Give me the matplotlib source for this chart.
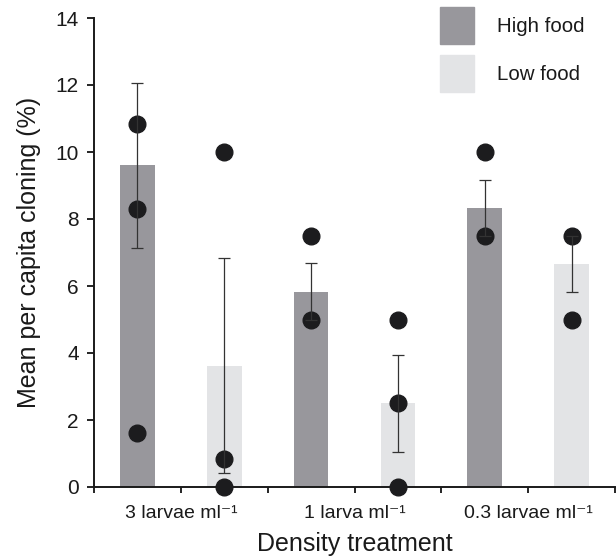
import matplotlib
matplotlib.use("Agg")
import matplotlib.pyplot as plt
from matplotlib.patches import Patch

plt.rcParams['font.family'] = ['Liberation Sans', 'DejaVu Sans']

categories = ["3 larvae ml\u207b\u00b9", "1 larva ml\u207b\u00b9", "0.3 larvae ml\u207b\u00b9"]
series = ["High food", "Low food"]
high_mean = [9.6, 5.82, 8.34]
low_mean = [3.61, 2.5, 6.66]
high_err_low = [2.47, 0.82, 0.85]
high_err_high = [2.47, 0.86, 0.82]
low_err_low = [3.18, 1.45, 0.83]
low_err_high = [3.23, 1.43, 0.83]
high_points = [[10.83, 8.29, 1.6], [7.5, 5.0], [10.0, 7.5]]
low_points = [[10.0, 0.83, 0.0], [5.0, 2.5, 0.0], [7.5, 5.0]]

col_high = "#98979c"
col_low = "#e3e4e6"
dot_col = "#1c1c1e"

fig = plt.figure(figsize=(6.16, 5.59), dpi=100)
ax = fig.add_axes([94/616, (559-487)/559, (615-94)/616, (487-18)/559])

bw = 0.4
for i in range(len(categories)):
    xh = 2*i + 0.5
    xl = 2*i + 1.5
    ax.bar(xh, high_mean[i], width=bw, color=col_high, zorder=1)
    ax.bar(xl, low_mean[i], width=bw, color=col_low, zorder=1)
    ax.plot([xh]*len(high_points[i]), high_points[i], 'o', color=dot_col,
            markersize=12, zorder=3, clip_on=False)
    ax.plot([xl]*len(low_points[i]), low_points[i], 'o', color=dot_col,
            markersize=12, zorder=3, clip_on=False)
    ax.errorbar(xh, high_mean[i], yerr=[[high_err_low[i]], [high_err_high[i]]],
                fmt='none', ecolor='#333333', elinewidth=0.9, capsize=4, capthick=0.9, zorder=4)
    ax.errorbar(xl, low_mean[i], yerr=[[low_err_low[i]], [low_err_high[i]]],
                fmt='none', ecolor='#333333', elinewidth=0.9, capsize=4, capthick=0.9, zorder=4)

ax.set_xlim(0, 6)
ax.set_ylim(0, 14)
ax.set_yticks(range(0, 15, 2))
ax.set_xticks(range(0, 7))
ax.set_xticklabels([])
for i, c in enumerate(categories):
    ax.text(2*i + 1, -0.55, c, ha='center', va='top', fontsize=14, color='#1a1a1a')

for s in ['top', 'right']:
    ax.spines[s].set_visible(False)
for s in ['left', 'bottom']:
    ax.spines[s].set_linewidth(1.4)
    ax.spines[s].set_color('#1a1a1a')
ax.tick_params(axis='y', direction='out', length=5, width=1.2, labelsize=15, pad=6,
               labelcolor='#1a1a1a')
ax.tick_params(axis='x', direction='out', length=4, width=1.2)

ax.set_ylabel("Mean per capita cloning (%)", fontsize=18, labelpad=10, color='#1a1a1a')
ax.set_xlabel("Density treatment", fontsize=18, labelpad=25, color='#1a1a1a')

handles = [Patch(color=col_high, label=series[0]), Patch(color=col_low, label=series[1])]
ax.legend(handles=handles, loc='upper left', bbox_to_anchor=(0.664, 1.024), frameon=False,
          fontsize=14.8, handlelength=1.68, handleheight=2.44, labelspacing=0.5,
          handletextpad=1.1, borderpad=0, borderaxespad=0, labelcolor='#1a1a1a')

fig.savefig("out.png", dpi=100)
